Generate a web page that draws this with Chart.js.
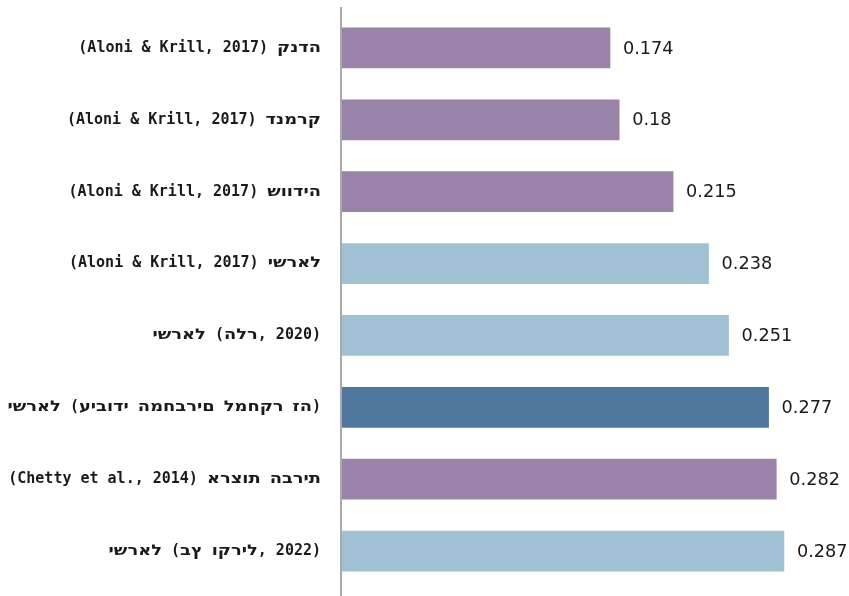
<!DOCTYPE html>
<html lang="he">
<head>
<meta charset="utf-8">
<script src="https://cdn.jsdelivr.net/npm/chart.js@4.4.1/dist/chart.umd.min.js"></script>
<style>
  html, body { margin: 0; padding: 0; background: #fff; }
  #wrap { width: 849px; height: 596px; }
</style>
</head>
<body>
<div id="wrap"><canvas id="myChart"></canvas></div>
<script>
'use strict';

// labels as they read on the picture, left to right
let labels = [
  '(Aloni & Krill, 2017) קנדה',
  '(Aloni & Krill, 2017) דנמרק',
  '(Aloni & Krill, 2017) שוודיה',
  '(Aloni & Krill, 2017) ישראל',
  'ישראל (הלר, 2020)',
  'ישראל (עיבודי המחברים למחקר זה)',
  '(Chetty et al., 2014) ארצות הברית',
  'ישראל (בץ וקריל, 2022)'
];
let values = [0.174, 0.18, 0.215, 0.238, 0.251, 0.277, 0.282, 0.287];
let groups = ['abroad', 'abroad', 'abroad', 'israel', 'israel', 'study', 'abroad', 'israel'];

let groupColors = { abroad: '#9983a9', israel: '#a0c0d4', study: '#4f789c' };

let monoFont = 'bold 15px "DejaVu Sans Mono"';
let hebFont = 'bold 15px "DejaVu Sans"';
let hebStretch = 1.19; // hebrew letters are wider on the picture

// keep the glyphs in plain left-to-right order
let ltr = s => '\u202D' + s + '\u202C';
let isHeb = ch => ch >= '\u0590' && ch <= '\u05FF';

// split a label into hebrew / other pieces
function pieces(s) {
  let out = [];
  for (let ch of s) {
    let heb = isHeb(ch);
    let last = out[out.length - 1];
    if (last && last.heb === heb) last.text += ch;
    else out.push({ text: ch, heb: heb });
  }
  return out;
}

// category labels, numbers next to the bars, grey axis line
let barLabels = {
  id: 'barLabels',
  afterDatasetsDraw(chart) {
    let ctx = chart.ctx;
    let yScale = chart.scales.y;
    let meta = chart.getDatasetMeta(0);
    ctx.save();
    ctx.fillStyle = '#1a1a1a';
    ctx.textAlign = 'left';
    ctx.textBaseline = 'middle';

    let right = chart.chartArea.left - 21;
    labels.forEach((lab, i) => {
      let parts = pieces(lab);
      let total = 0;
      parts.forEach(p => {
        ctx.font = p.heb ? hebFont : monoFont;
        p.w = ctx.measureText(p.heb ? ltr(p.text) : p.text).width * (p.heb ? hebStretch : 1);
        total += p.w;
      });
      let x = right - total;
      let y = yScale.getPixelForTick(i);
      parts.forEach(p => {
        if (p.heb) {
          ctx.font = hebFont;
          ctx.save();
          ctx.translate(x, y);
          ctx.scale(hebStretch, 1);
          ctx.fillText(ltr(p.text), 0, 0);
          ctx.restore();
        } else {
          ctx.font = monoFont;
          ctx.fillText(p.text, x, y);
        }
        x += p.w;
      });
    });

    ctx.font = '17.7px "DejaVu Sans"';
    meta.data.forEach((bar, i) => {
      ctx.fillText(String(values[i]), bar.x + 13, bar.y + 1);
    });

    let x0 = chart.scales.x.getPixelForValue(0) - 1;
    ctx.strokeStyle = '#aaaaaa';
    ctx.lineWidth = 2;
    ctx.beginPath();
    ctx.moveTo(x0, chart.chartArea.top - 5);
    ctx.lineTo(x0, chart.height);
    ctx.stroke();
    ctx.restore();
  }
};

let ctx = document.getElementById('myChart').getContext('2d');

let myChart = new Chart(ctx, {
  type: 'bar',
  data: {
    labels: labels,
    datasets: [{
      data: values,
      backgroundColor: groups.map(g => groupColors[g]),
      borderWidth: 0,
      barThickness: 40
    }]
  },
  options: {
    indexAxis: 'y',
    animation: false,
    responsive: true,
    maintainAspectRatio: false,
    layout: { padding: { top: 12, bottom: 9, left: 0, right: 45 } },
    plugins: {
      legend: { display: false },
      tooltip: { enabled: false }
    },
    scales: {
      x: {
        display: false,
        min: 0,
        max: 0.3
      },
      y: {
        grid: { display: false, drawTicks: false },
        border: { display: false },
        ticks: { display: false },
        afterFit: s => {
          s.width = 342;
          s.paddingTop = 0;
          s.paddingBottom = 0;
        }
      }
    }
  },
  plugins: [barLabels]
});
</script>
</body>
</html>
